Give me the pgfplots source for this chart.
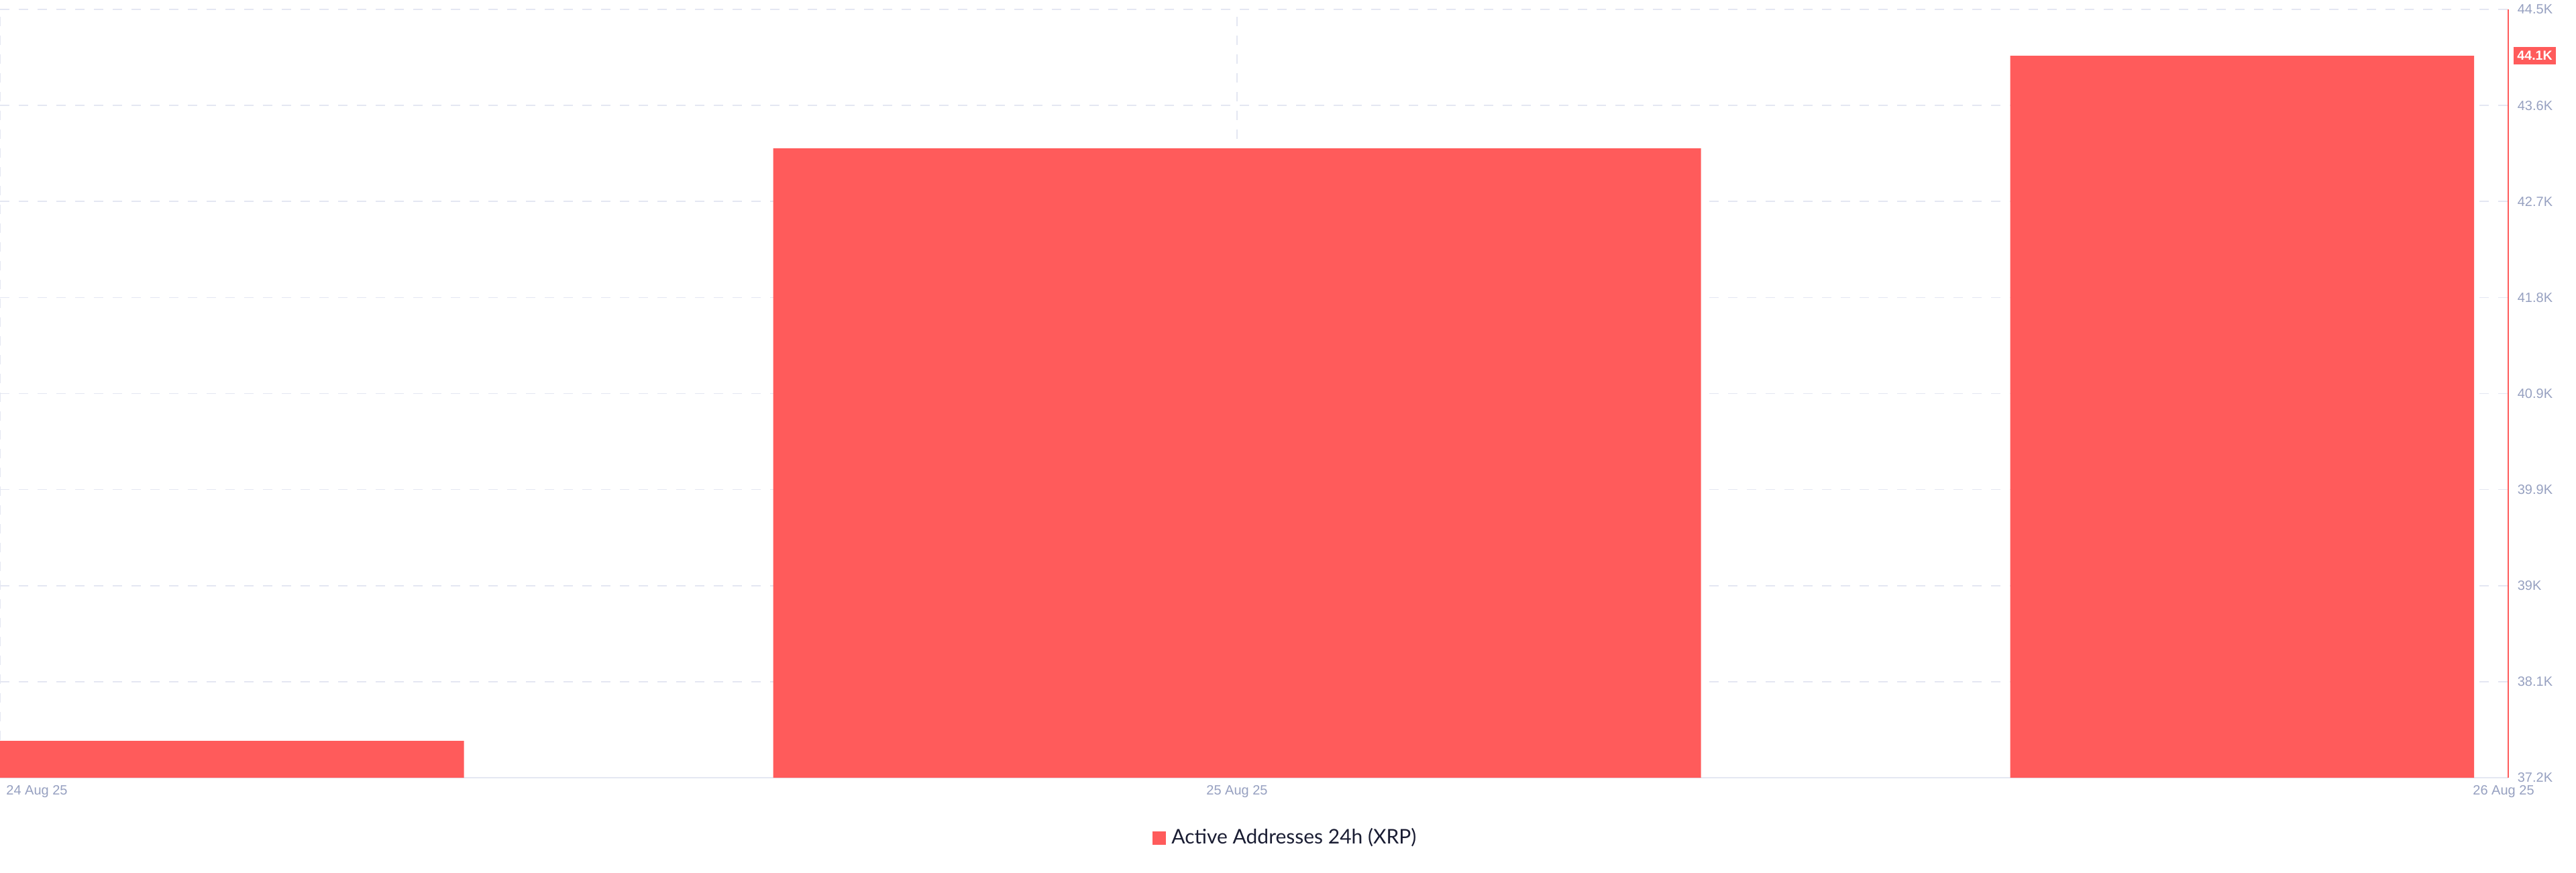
\documentclass[border=0pt]{standalone}
\usepackage{pgfplots}
\pgfplotsset{compat=1.18}
\usepackage{pgfplotstable}
\usepackage{fontspec}
\setmainfont{Liberation Sans}
\newfontfamily\legendfont{Lato}

\definecolor{barred}{RGB}{255,91,91}
\definecolor{gridc}{RGB}{228,231,242}
\definecolor{tickc}{RGB}{150,160,192}
\definecolor{legc}{RGB}{26,29,51}

% active addresses, thousands; x = day (24, 25, 26 Aug 25)
\pgfplotstableread{
x y
0 37.55
1 43.18
2 44.06
}\activeaddr

\begin{document}
\begin{tikzpicture}
\path[use as bounding box] (0pt,0pt) rectangle (960pt,325pt);
% grid, axis lines, tick labels (x in target pixels)
\begin{axis}[
  at={(0pt,35.25pt)}, anchor=south west, scale only axis,
  width=934.75pt, height=286.25pt,
  xmin=0, xmax=3739, ymin=37.2, ymax=44.5,
  axis x line*=bottom, axis y line*=right,
  x axis line style={draw=gridc, line width=0.5pt, -},
  y axis line style={draw=barred, line width=0.6pt, -},
  xtick={0,1844}, xticklabels={}, xmajorgrids,
  extra x ticks={55,1844,3732},
  extra x tick labels={24 Aug 25,25 Aug 25,26 Aug 25},
  extra x tick style={grid=none},
  ytick={37.2,38.1125,39.025,39.9375,40.85,41.7625,42.675,43.5875,44.5},
  yticklabels={37.2K,38.1K,39K,39.9K,40.9K,41.8K,42.7K,43.6K,44.5K},
  ymajorgrids,
  major grid style={draw=gridc, line width=0.4pt, dash pattern=on 3.5pt off 3.5pt},
  major tick length=0pt,
  tick label style={font=\fontsize{5pt}{6pt}\selectfont, text=tickc},
  yticklabel style={anchor=west, inner sep=0pt, xshift=3.25pt},
  xticklabel style={anchor=north, inner sep=0pt, yshift=-2.6pt},
  clip=false,
]
\addplot[draw=none, mark=none, nodes near coords={\bfseries 44.1K},
  nodes near coords align=horizontal,
  nodes near coords style={anchor=west, fill=barred, text=white, inner xsep=1.4pt,
    inner ysep=0pt, minimum height=6.5pt, xshift=1.75pt,
    font=\fontsize{4.9pt}{5.5pt}\selectfont}]
  coordinates {(3739,44.06)};
\end{axis}
% bars
\begin{axis}[
  at={(0pt,35.25pt)}, anchor=south west, scale only axis,
  width=922pt, height=286.25pt,
  xmin=0, xmax=2, ymin=37.2, ymax=44.5,
  axis lines=none,
  ybar, bar width=0.75,
  legend style={at={(0.5203,-0.0786)}, anchor=center, draw=none, fill=none,
    font=\legendfont\fontsize{7.5pt}{8.5pt}\selectfont, text=legc},
  legend image code/.code={\fill[barred] (0pt,-2.5pt) rectangle (5pt,2.5pt);},
]
\addplot[fill=barred, draw=none] table {\activeaddr};
\addlegendentry{Active Addresses 24h (XRP)}
\end{axis}
\end{tikzpicture}
\end{document}
